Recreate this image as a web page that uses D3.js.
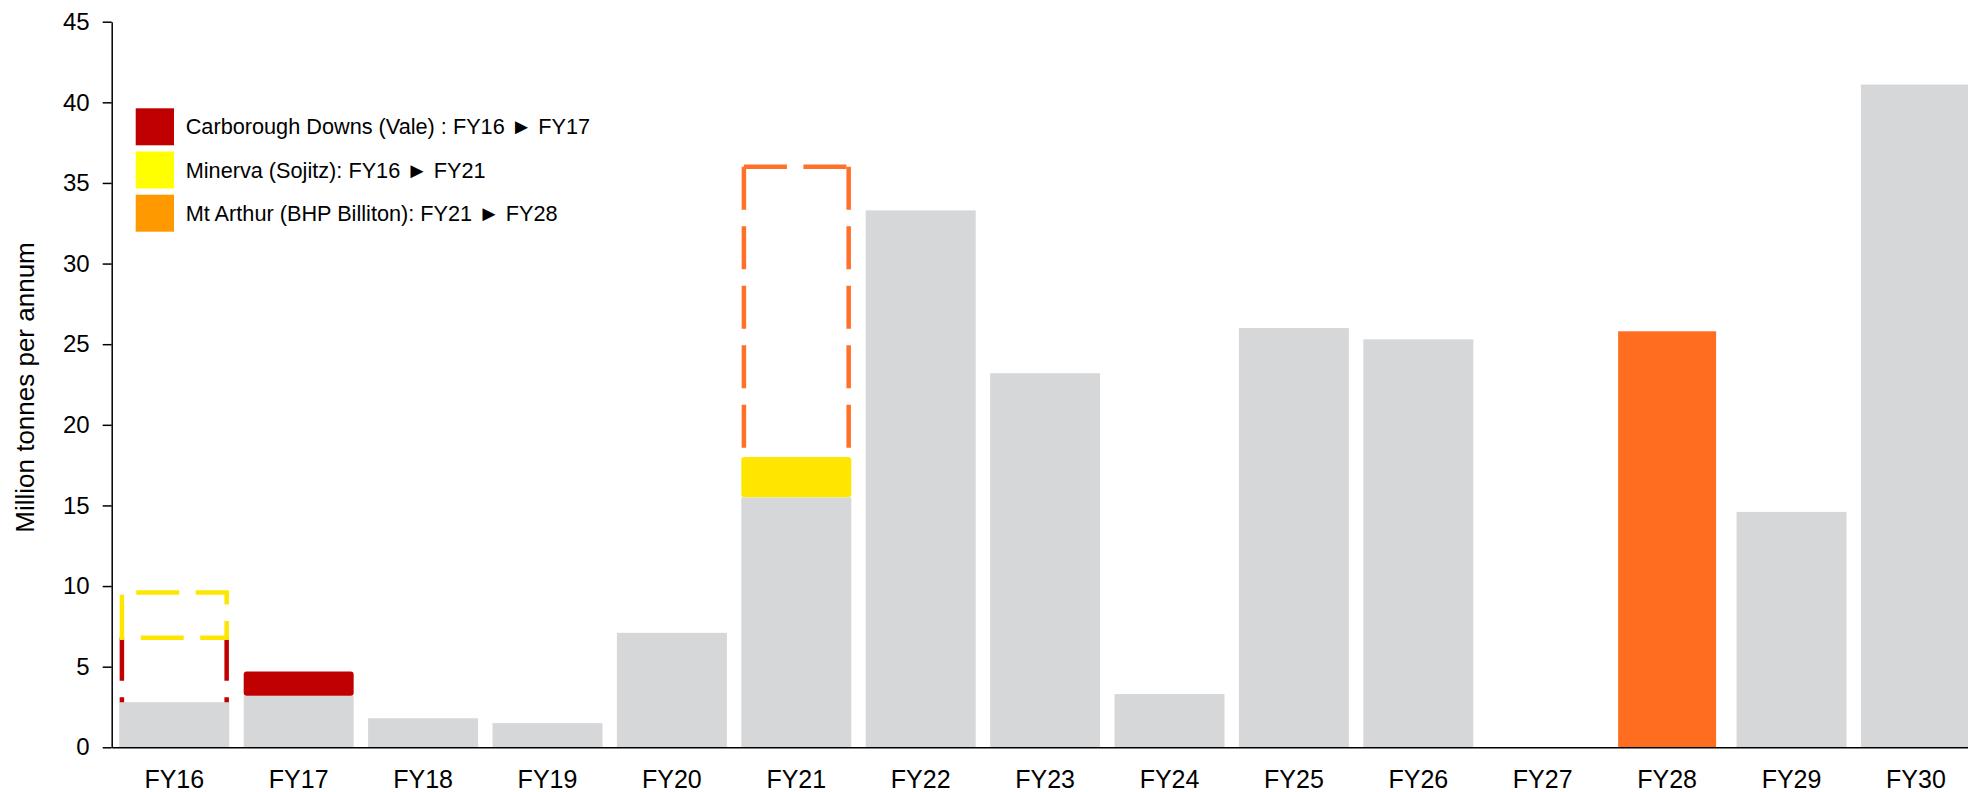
<!DOCTYPE html>
<html>
<head>
<meta charset="utf-8">
<script src="https://cdn.jsdelivr.net/npm/d3@7/dist/d3.min.js"></script>
<style>
  html, body { margin: 0; padding: 0; background: #ffffff; }
  svg { display: block; }
  text { font-family: "Liberation Sans", Arial, Helvetica, sans-serif; fill: #000; }
</style>
</head>
<body>
<svg id="chart" width="1968" height="792"></svg>
<script>
// ---------------- data ----------------
const categories = ["FY16","FY17","FY18","FY19","FY20","FY21","FY22","FY23","FY24","FY25","FY26","FY27","FY28","FY29","FY30"];
const baseValues = [2.8, 3.2, 1.8, 1.5, 7.1, 15.5, 33.3, 23.2, 3.3, 26.0, 25.3, 0, 0, 14.6, 41.1];
const yTicks = [0, 5, 10, 15, 20, 25, 30, 35, 40, 45];
const yTitle = "Million tonnes per annum";

// project moves: former year (dashed outline) -> new year (solid block)
const legendLabels = [
  "Carborough Downs (Vale) : FY16 \u25BA FY17",
  "Minerva (Sojitz): FY16 \u25BA FY21",
  "Mt Arthur (BHP Billiton): FY21 \u25BA FY28"
];
const moveFrom = ["FY16", "FY16", "FY21"];
const moveTo = ["FY17", "FY21", "FY28"];
const moveAmount = [1.5, 2.5, 25.8];
const formerBottom = [2.8, 6.8, 18.0];
const formerTop = [6.8, 9.6, 36.0];

// ---------------- styles ----------------
const grey = "#D6D7D9";
const solidColors = ["#C00000", "#FFE600", "#FF6D21"];
const dashColors = ["#C00000", "#FFE600", "#FF7028"];
const legendColors = ["#C00000", "#FFFF00", "#FF9900"];

const svg = d3.select("#chart");

const x = d3.scaleBand()
  .domain(categories)
  .range([111.7, 1978.5])
  .paddingInner(0.116)
  .paddingOuter(0.061);

const y = d3.scaleLinear()
  .domain([0, 45])
  .range([747.3, 21.7]);

const bw = x.bandwidth();

// grey bars
svg.append("g").selectAll("rect")
  .data(categories.map((c, i) => ({ c, v: baseValues[i] })).filter(d => d.v > 0))
  .join("rect")
  .attr("x", d => x(d.c))
  .attr("width", bw)
  .attr("y", d => y(d.v))
  .attr("height", d => y(0) - y(d.v))
  .attr("fill", grey);

// solid moved blocks
const moves = moveTo.map((c, i) => {
  const base = baseValues[categories.indexOf(c)];
  return { i, c, base, top: base + moveAmount[i] };
});
svg.append("g").selectAll("rect")
  .data(moves)
  .join("rect")
  .attr("x", d => x(d.c) + (d.base === 0 ? 6 : 0))
  .attr("width", d => bw - (d.base === 0 ? 12 : 0))
  .attr("y", d => y(d.top))
  .attr("height", d => y(d.base) - y(d.top))
  .attr("rx", d => d.base === 0 ? 0 : 3)
  .attr("fill", d => solidColors[d.i]);

// dashed outlines of former positions
const dashG = svg.append("g").attr("fill", "none").attr("stroke-width", 4.5)
  .attr("stroke-dasharray", "43,16.5");
const inset = 2.6;
moveFrom.forEach((c, i) => {
  const x0 = x(c) + inset, x1 = x(c) + bw - inset;
  const yt = y(formerTop[i]), yb = y(formerBottom[i]);
  const col = dashColors[i];
  if (i === 1) {
    dashG.append("path")
      .attr("d", `M${x0},${yb}L${x0},${yt}L${x1},${yt}L${x1},${yb}Z`)
      .attr("stroke", col);
  } else {
    const segs = [[x0, yt, x0, yb], [x1, yt, x1, yb]];
    if (i === 2) segs.push([x0, yt, x1, yt]);
    segs.forEach(s => {
      dashG.append("line")
        .attr("x1", s[0]).attr("y1", s[1]).attr("x2", s[2]).attr("y2", s[3])
        .attr("stroke", col);
    });
  }
});

// x axis
const xAxis = svg.append("g")
  .attr("transform", `translate(0,${y(0)})`)
  .call(d3.axisBottom(x).tickSize(0).tickPadding(23.3));
xAxis.select(".domain").attr("stroke", "#000").attr("stroke-width", 1.5);
xAxis.selectAll("text").attr("font-size", 25)
  .style("font-family", "'Liberation Sans', Arial, sans-serif").attr("fill", "#000");

// y axis
const yAxis = svg.append("g")
  .attr("transform", `translate(111.7,0)`)
  .call(d3.axisLeft(y).tickValues(yTicks).tickSize(9).tickSizeOuter(0).tickPadding(13));
yAxis.select(".domain").attr("stroke", "#000").attr("stroke-width", 1.5);
yAxis.selectAll(".tick line").attr("stroke", "#000").attr("stroke-width", 1.5);
yAxis.selectAll("text").attr("font-size", 24)
  .style("font-family", "'Liberation Sans', Arial, sans-serif").attr("fill", "#000");

// y title
svg.append("text")
  .attr("transform", `translate(34,${(y(0) + y(45)) / 2 + 3}) rotate(-90)`)
  .attr("text-anchor", "middle")
  .attr("font-size", 26)
  .text(yTitle);

// legend
const lg = svg.append("g").attr("transform", "translate(135.7,108.3)");
legendLabels.forEach((lab, i) => {
  const row = lg.append("g").attr("transform", `translate(0,${i * 43.2})`);
  row.append("rect")
    .attr("width", 38.3).attr("height", 37)
    .attr("fill", legendColors[i]);
  row.append("text")
    .attr("x", 50).attr("y", 18.5).attr("dy", "0.35em")
    .attr("font-size", 21.7)
    .text(lab);
});
</script>
</body>
</html>
